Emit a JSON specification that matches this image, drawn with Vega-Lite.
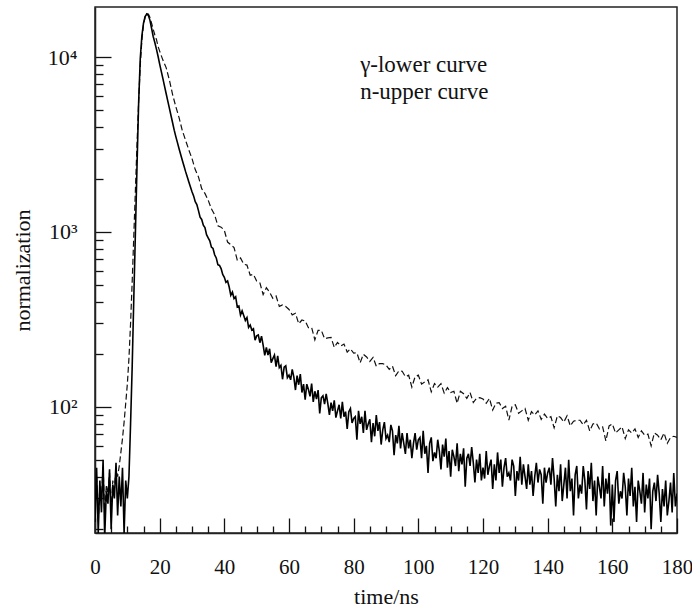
{
  "$schema": "https://vega.github.io/schema/vega-lite/v6.json",
  "width": 582,
  "height": 526,
  "autosize": {"type": "none"},
  "padding": {"left": 95, "top": 7, "right": 15, "bottom": 77},
  "background": "white",
  "config": {
    "view": {"stroke": "#222", "strokeWidth": 1.5},
    "font": "Liberation Serif",
    "axis": {"grid": false, "domainColor": "#222", "domainWidth": 1.5, "tickColor": "#111", "tickWidth": 1.3, "labelFont": "Liberation Serif", "titleFont": "Liberation Serif", "labelColor": "#111", "titleColor": "#111", "labelFontSize": 21, "titleFontSize": 22, "titleFontWeight": "normal"}
  },
  "datasets": {
    "gamma": [
      {"t":0,"v":22},{"t":0.5,"v":45},{"t":1,"v":19},{"t":1.5,"v":38},{"t":2,"v":25},{"t":2.5,"v":50},{"t":3,"v":18},{"t":3.5,"v":33},{"t":4,"v":28},{"t":4.5,"v":44},
      {"t":5,"v":20},{"t":5.5,"v":36},{"t":6,"v":30},{"t":6.5,"v":48},{"t":7,"v":24},{"t":7.5,"v":40},{"t":8,"v":27},{"t":8.5,"v":45},{"t":9,"v":19},{"t":9.5,"v":38},
      {"t":10,"v":30},{"t":10.5,"v":40},{"t":11,"v":80},{"t":11.5,"v":170},{"t":12,"v":420},{"t":12.5,"v":1000},{"t":13,"v":2400},{"t":13.5,"v":5500},{"t":14,"v":9800},{"t":14.5,"v":13200},
      {"t":15,"v":15600},{"t":15.5,"v":17000},{"t":16,"v":17600},{"t":16.5,"v":17300},{"t":17,"v":16200},{"t":17.5,"v":14600},{"t":18,"v":13100},{"t":18.5,"v":12100},{"t":19,"v":11100},{"t":19.5,"v":10100},
      {"t":20,"v":9100},{"t":20.5,"v":8280},{"t":21,"v":7520},{"t":21.5,"v":6820},{"t":22,"v":6190},{"t":22.5,"v":5620},{"t":23,"v":5100},{"t":23.5,"v":4630},{"t":24,"v":4210},{"t":24.5,"v":3820},
      {"t":25,"v":3510},{"t":25.5,"v":3240},{"t":26,"v":2990},{"t":26.5,"v":2770},{"t":27,"v":2570},{"t":27.5,"v":2390},{"t":28,"v":2220},{"t":28.5,"v":2075},{"t":29,"v":1940},{"t":29.5,"v":1815},
      {"t":30,"v":1700},{"t":30.5,"v":1608},{"t":31,"v":1489},{"t":31.5,"v":1435},{"t":32,"v":1324},{"t":32.5,"v":1216},{"t":33,"v":1180},{"t":33.5,"v":1094},{"t":34,"v":1059},{"t":34.5,"v":966},
      {"t":35,"v":927},{"t":35.5,"v":891},{"t":36,"v":820},{"t":36.5,"v":805},{"t":37,"v":741},{"t":37.5,"v":711},{"t":38,"v":651},{"t":38.5,"v":644},{"t":39,"v":618},{"t":39.5,"v":572},
      {"t":40,"v":551},{"t":40.5,"v":516},{"t":41,"v":525},{"t":41.5,"v":485},{"t":42,"v":435},{"t":42.5,"v":454},{"t":43,"v":417},{"t":43.5,"v":427},{"t":44,"v":373},{"t":44.5,"v":378},
      {"t":45,"v":335},{"t":45.5,"v":354},{"t":46,"v":333},{"t":46.5,"v":312},{"t":47,"v":324},{"t":47.5,"v":285},{"t":48,"v":294},{"t":48.5,"v":275},{"t":49,"v":280},{"t":49.5,"v":241},
      {"t":50,"v":255},{"t":50.5,"v":258},{"t":51,"v":233},{"t":51.5,"v":254},{"t":52,"v":226},{"t":52.5,"v":197},{"t":53,"v":219},{"t":53.5,"v":198},{"t":54,"v":215},{"t":54.5,"v":179},
      {"t":55,"v":189},{"t":55.5,"v":198},{"t":56,"v":170},{"t":56.5,"v":196},{"t":57,"v":168},{"t":57.5,"v":173},{"t":58,"v":144},{"t":58.5,"v":169},{"t":59,"v":172},{"t":59.5,"v":147},
      {"t":60,"v":152},{"t":60.5,"v":143},{"t":61,"v":164},{"t":61.5,"v":148},{"t":62,"v":125},{"t":62.5,"v":151},{"t":63,"v":134},{"t":63.5,"v":154},{"t":64,"v":121},{"t":64.5,"v":135},
      {"t":65,"v":110},{"t":65.5,"v":135},{"t":66,"v":126},{"t":66.5,"v":115},{"t":67,"v":136},{"t":67.5,"v":107},{"t":68,"v":123},{"t":68.5,"v":111},{"t":69,"v":125},{"t":69.5,"v":92},
      {"t":70,"v":113},{"t":70.5,"v":116},{"t":71,"v":104},{"t":71.5,"v":119},{"t":72,"v":105},{"t":72.5,"v":90},{"t":73,"v":106},{"t":73.5,"v":95},{"t":74,"v":109},{"t":74.5,"v":87},
      {"t":75,"v":95},{"t":75.5,"v":103},{"t":76,"v":86},{"t":76.5,"v":107},{"t":77,"v":88},{"t":77.5,"v":94},{"t":78,"v":75},{"t":78.5,"v":94},{"t":79,"v":98},{"t":79.5,"v":81},
      {"t":80,"v":86},{"t":80.5,"v":88},{"t":81,"v":65},{"t":81.5,"v":95},{"t":82,"v":80},{"t":82.5,"v":88},{"t":83,"v":71},{"t":83.5,"v":95},{"t":84,"v":74},{"t":84.5,"v":80},
      {"t":85,"v":85},{"t":85.5,"v":63},{"t":86,"v":81},{"t":86.5,"v":68},{"t":87,"v":90},{"t":87.5,"v":73},{"t":88,"v":82},{"t":88.5,"v":61},{"t":89,"v":74},{"t":89.5,"v":82},
      {"t":90,"v":66},{"t":90.5,"v":69},{"t":91,"v":63},{"t":91.5,"v":79},{"t":92,"v":73},{"t":92.5,"v":53},{"t":93,"v":69},{"t":93.5,"v":62},{"t":94,"v":78},{"t":94.5,"v":58},
      {"t":95,"v":71},{"t":95.5,"v":62},{"t":96,"v":54},{"t":96.5,"v":71},{"t":97,"v":58},{"t":97.5,"v":65},{"t":98,"v":51},{"t":98.5,"v":62},{"t":99,"v":71},{"t":99.5,"v":57},
      {"t":100,"v":65},{"t":100.5,"v":67},{"t":101,"v":51},{"t":101.5,"v":73},{"t":102,"v":54},{"t":102.5,"v":60},{"t":103,"v":42},{"t":103.5,"v":62},{"t":104,"v":67},{"t":104.5,"v":49},
      {"t":105,"v":55},{"t":105.5,"v":51},{"t":106,"v":65},{"t":106.5,"v":56},{"t":107,"v":44},{"t":107.5,"v":61},{"t":108,"v":52},{"t":108.5,"v":66},{"t":109,"v":45},{"t":109.5,"v":56},
      {"t":110,"v":40},{"t":110.5,"v":57},{"t":111,"v":52},{"t":111.5,"v":46},{"t":112,"v":62},{"t":112.5,"v":43},{"t":113,"v":54},{"t":113.5,"v":47},{"t":114,"v":58},{"t":114.5,"v":35},
      {"t":115,"v":51},{"t":115.5,"v":54},{"t":116,"v":46},{"t":116.5,"v":59},{"t":117,"v":48},{"t":117.5,"v":37},{"t":118,"v":50},{"t":118.5,"v":42},{"t":119,"v":54},{"t":119.5,"v":38},
      {"t":120,"v":45},{"t":120.5,"v":39},{"t":121,"v":56},{"t":121.5,"v":41},{"t":122,"v":46},{"t":122.5,"v":50},{"t":123,"v":34},{"t":123.5,"v":47},{"t":124,"v":38},{"t":124.5,"v":55},
      {"t":125,"v":42},{"t":125.5,"v":50},{"t":126,"v":35},{"t":126.5,"v":45},{"t":127,"v":51},{"t":127.5,"v":40},{"t":128,"v":42},{"t":128.5,"v":38},{"t":129,"v":50},{"t":129.5,"v":46},
      {"t":130,"v":31},{"t":130.5,"v":43},{"t":131,"v":38},{"t":131.5,"v":52},{"t":132,"v":36},{"t":132.5,"v":47},{"t":133,"v":40},{"t":133.5,"v":34},{"t":134,"v":47},{"t":134.5,"v":36},
      {"t":135,"v":43},{"t":135.5,"v":31},{"t":136,"v":40},{"t":136.5,"v":48},{"t":137,"v":37},{"t":137.5,"v":44},{"t":138,"v":41},{"t":138.5,"v":28},{"t":139,"v":45},{"t":139.5,"v":37},
      {"t":140,"v":42},{"t":140.5,"v":45},{"t":141,"v":36},{"t":141.5,"v":51},{"t":142,"v":39},{"t":142.5,"v":27},{"t":143,"v":41},{"t":143.5,"v":33},{"t":144,"v":47},{"t":144.5,"v":29},
      {"t":145,"v":36},{"t":145.5,"v":45},{"t":146,"v":30},{"t":146.5,"v":50},{"t":147,"v":33},{"t":147.5,"v":39},{"t":148,"v":24},{"t":148.5,"v":41},{"t":149,"v":46},{"t":149.5,"v":30},
      {"t":150,"v":36},{"t":150.5,"v":32},{"t":151,"v":46},{"t":151.5,"v":38},{"t":152,"v":26},{"t":152.5,"v":43},{"t":153,"v":34},{"t":153.5,"v":48},{"t":154,"v":29},{"t":154.5,"v":38},
      {"t":155,"v":24},{"t":155.5,"v":40},{"t":156,"v":35},{"t":156.5,"v":30},{"t":157,"v":46},{"t":157.5,"v":27},{"t":158,"v":39},{"t":158.5,"v":32},{"t":159,"v":42},{"t":159.5,"v":21},
      {"t":160,"v":36},{"t":160.5,"v":22},{"t":161,"v":38},{"t":161.5,"v":43},{"t":162,"v":28},{"t":162.5,"v":33},{"t":163,"v":30},{"t":163.5,"v":42},{"t":164,"v":35},{"t":164.5,"v":24},
      {"t":165,"v":39},{"t":165.5,"v":31},{"t":166,"v":45},{"t":166.5,"v":27},{"t":167,"v":35},{"t":167.5,"v":22},{"t":168,"v":38},{"t":168.5,"v":33},{"t":169,"v":28},{"t":169.5,"v":42},
      {"t":170,"v":25},{"t":170.5,"v":36},{"t":171,"v":30},{"t":171.5,"v":39},{"t":172,"v":20},{"t":172.5,"v":33},{"t":173,"v":37},{"t":173.5,"v":29},{"t":174,"v":41},{"t":174.5,"v":32},
      {"t":175,"v":22},{"t":175.5,"v":34},{"t":176,"v":27},{"t":176.5,"v":38},{"t":177,"v":24},{"t":177.5,"v":29},{"t":178,"v":37},{"t":178.5,"v":25},{"t":179,"v":42},{"t":179.5,"v":27},
      {"t":180,"v":32}
    ],
    "neutron": [
      {"t":0,"v":28},{"t":0.5,"v":40},{"t":1,"v":22},{"t":1.5,"v":35},{"t":2,"v":30},{"t":2.5,"v":46},{"t":3,"v":24},{"t":3.5,"v":36},{"t":4,"v":32},{"t":4.5,"v":42},
      {"t":5,"v":26},{"t":5.5,"v":38},{"t":6,"v":34},{"t":6.5,"v":44},{"t":7,"v":40},{"t":7.5,"v":46},{"t":8,"v":55},{"t":8.5,"v":66},{"t":9,"v":82},{"t":9.5,"v":105},
      {"t":10,"v":135},{"t":10.5,"v":190},{"t":11,"v":300},{"t":11.5,"v":520},{"t":12,"v":950},{"t":12.5,"v":1750},{"t":13,"v":3200},{"t":13.5,"v":5600},{"t":14,"v":9000},{"t":14.5,"v":12500},
      {"t":15,"v":15300},{"t":15.5,"v":17000},{"t":16,"v":17700},{"t":16.5,"v":17600},{"t":17,"v":16800},{"t":17.5,"v":15600},{"t":18,"v":14400},{"t":18.5,"v":13400},{"t":19,"v":12600},{"t":19.5,"v":11500},
      {"t":20,"v":10800},{"t":21,"v":9600},{"t":22,"v":8700},{"t":23,"v":7400},{"t":24,"v":6100},{"t":25,"v":5200},{"t":26,"v":4500},{"t":27,"v":3800},{"t":28,"v":3350},{"t":29,"v":2950},
      {"t":30,"v":2627},{"t":31,"v":2274},{"t":32,"v":2066},{"t":33,"v":1769},{"t":34,"v":1662},{"t":35,"v":1521},{"t":36,"v":1356},{"t":37,"v":1254},{"t":38,"v":1085},{"t":39,"v":1066},
      {"t":40,"v":1022},{"t":41,"v":876},{"t":42,"v":845},{"t":43,"v":815},{"t":44,"v":691},{"t":45,"v":711},{"t":46,"v":655},{"t":47,"v":647},{"t":48,"v":566},{"t":49,"v":573},
      {"t":50,"v":524},{"t":51,"v":512},{"t":52,"v":439},{"t":53,"v":480},{"t":54,"v":453},{"t":55,"v":418},{"t":56,"v":431},{"t":57,"v":376},{"t":58,"v":383},{"t":59,"v":375},
      {"t":60,"v":361},{"t":61,"v":336},{"t":62,"v":343},{"t":63,"v":299},{"t":64,"v":314},{"t":65,"v":310},{"t":66,"v":284},{"t":67,"v":285},{"t":68,"v":242},{"t":69,"v":274},
      {"t":70,"v":274},{"t":71,"v":246},{"t":72,"v":248},{"t":73,"v":250},{"t":74,"v":219},{"t":75,"v":234},{"t":76,"v":223},{"t":77,"v":229},{"t":78,"v":206},{"t":79,"v":215},
      {"t":80,"v":203},{"t":81,"v":204},{"t":82,"v":179},{"t":83,"v":200},{"t":84,"v":193},{"t":85,"v":182},{"t":86,"v":192},{"t":87,"v":171},{"t":88,"v":177},{"t":89,"v":177},
      {"t":90,"v":174},{"t":91,"v":164},{"t":92,"v":171},{"t":93,"v":151},{"t":94,"v":161},{"t":95,"v":160},{"t":96,"v":149},{"t":97,"v":152},{"t":98,"v":130},{"t":99,"v":149},
      {"t":100,"v":152},{"t":101,"v":135},{"t":102,"v":139},{"t":103,"v":143},{"t":104,"v":122},{"t":105,"v":136},{"t":106,"v":130},{"t":107,"v":136},{"t":108,"v":120},{"t":109,"v":129},
      {"t":110,"v":121},{"t":111,"v":123},{"t":112,"v":105},{"t":113,"v":123},{"t":114,"v":119},{"t":115,"v":112},{"t":116,"v":121},{"t":117,"v":106},{"t":118,"v":112},{"t":119,"v":113},
      {"t":120,"v":111},{"t":121,"v":105},{"t":122,"v":112},{"t":123,"v":96},{"t":124,"v":105},{"t":125,"v":106},{"t":126,"v":98},{"t":127,"v":101},{"t":128,"v":84},{"t":129,"v":101},
      {"t":130,"v":103},{"t":131,"v":92},{"t":132,"v":95},{"t":133,"v":98},{"t":134,"v":84},{"t":135,"v":94},{"t":136,"v":90},{"t":137,"v":95},{"t":138,"v":85},{"t":139,"v":91},
      {"t":140,"v":86},{"t":141,"v":88},{"t":142,"v":76},{"t":143,"v":89},{"t":144,"v":87},{"t":145,"v":82},{"t":146,"v":89},{"t":147,"v":78},{"t":148,"v":83},{"t":149,"v":84},
      {"t":150,"v":84},{"t":151,"v":79},{"t":152,"v":84},{"t":153,"v":73},{"t":154,"v":80},{"t":155,"v":81},{"t":156,"v":75},{"t":157,"v":77},{"t":158,"v":64},{"t":159,"v":78},
      {"t":160,"v":80},{"t":161,"v":71},{"t":162,"v":74},{"t":163,"v":77},{"t":164,"v":66},{"t":165,"v":74},{"t":166,"v":71},{"t":167,"v":75},{"t":168,"v":67},{"t":169,"v":73},
      {"t":170,"v":69},{"t":171,"v":70},{"t":172,"v":60},{"t":173,"v":71},{"t":174,"v":69},{"t":175,"v":65},{"t":176,"v":71},{"t":177,"v":62},{"t":178,"v":67},{"t":179,"v":68},
      {"t":180,"v":67}
    ],
    "notes": [
      {"t":82,"v":8260,"label":"γ-lower curve"},
      {"t":82,"v":5750,"label":"n-upper curve"}
    ]
  },
  "encoding": {
    "x": {
      "field": "t", "type": "quantitative",
      "scale": {"domain": [0, 180], "nice": false, "zero": false},
      "axis": {
        "title": "time/ns",
        "values": [0,5,10,15,20,25,30,35,40,45,50,55,60,65,70,75,80,85,90,95,100,105,110,115,120,125,130,135,140,145,150,155,160,165,170,175,180],
        "labelExpr": "datum.value % 20 === 0 ? datum.label : ''",
        "tickSize": {"condition": {"test": "datum.value % 20 === 0", "value": -15}, "value": -7},
        "labelPadding": 38,
        "labelFlush": false,
        "labelOverlap": false,
        "titleX": 291,
        "titleY": 70,
        "titleBaseline": "alphabetic",
        "titleAlign": "center"
      }
    },
    "y": {
      "field": "v", "type": "quantitative",
      "scale": {"type": "log", "domain": [19.05, 19310], "nice": false},
      "axis": {
        "title": "normalization",
        "values": [20,30,40,50,60,70,80,90,100,200,300,400,500,600,700,800,900,1000,2000,3000,4000,5000,6000,7000,8000,9000,10000],
        "labelExpr": "datum.value == 100 ? '10²' : datum.value == 1000 ? '10³' : datum.value == 10000 ? '10⁴' : ''",
        "tickSize": {"condition": {"test": "datum.value == 100 || datum.value == 1000 || datum.value == 10000", "value": -16}, "value": -8},
        "labelPadding": 34,
        "labelFontSize": 22,
        "labelOverlap": false,
        "labelBaseline": "middle",
        "titleX": -73,
        "titleY": 263,
        "titleBaseline": "middle",
        "titleAlign": "center",
        "titleAngle": -90
      }
    }
  },
  "layer": [
    {
      "data": {"name": "neutron"},
      "mark": {"type": "line", "color": "#111", "strokeWidth": 1.2, "strokeDash": [6, 3], "clip": true}
    },
    {
      "data": {"name": "gamma"},
      "mark": {"type": "line", "color": "#000", "strokeWidth": 1.6, "clip": true}
    },
    {
      "data": {"name": "notes"},
      "mark": {"type": "text", "align": "left", "baseline": "alphabetic", "font": "Liberation Serif", "fontSize": 23, "color": "#111"},
      "encoding": {"text": {"field": "label"}}
    }
  ]
}
